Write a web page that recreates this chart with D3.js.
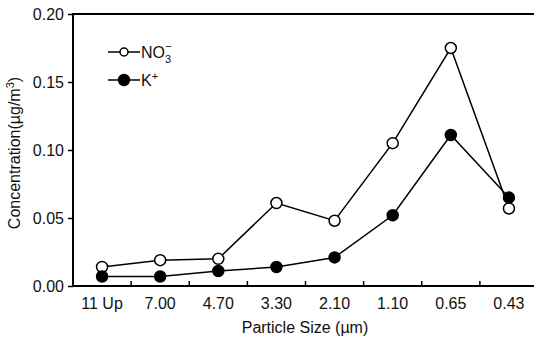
<!DOCTYPE html>
<html lang="en">
  <head>
    <meta charset="utf-8" />
    <title>Particle size distribution</title>
    <script src="https://d3js.org/d3.v7.js"></script>
    <style>
      body { margin: 0; background: #fff; }
      text { font-family: "Liberation Sans", Arial, sans-serif; fill: #111; }
    </style>
  </head>
  <body>
    <script>

    // data
    var sizes = ["11 Up", "7.00", "4.70", "3.30", "2.10", "1.10", "0.65", "0.43"];
    var no3 = [0.014, 0.019, 0.020, 0.061, 0.048, 0.105, 0.175, 0.057];
    var kplus = [0.007, 0.007, 0.011, 0.014, 0.021, 0.052, 0.111, 0.065];
    var yTicks = [0, 0.05, 0.10, 0.15, 0.20];

    var w = 534, h = 341;
    var margin = {top: 14, right: -4, bottom: 55, left: 73};

    var svg = d3.select("body")
      .append("svg")
        .attr("width", w)
        .attr("height", h);

    var x = d3.scaleBand()
      .domain(sizes)
      .range([margin.left, w - margin.right]);

    var y = d3.scaleLinear()
      .domain([0, 0.2])
      .range([h - margin.bottom, margin.top]);

    // frame
    svg.append("rect")
      .attr("x", margin.left)
      .attr("y", margin.top)
      .attr("width", w - margin.right - margin.left)
      .attr("height", h - margin.bottom - margin.top)
      .attr("fill", "none")
      .attr("stroke", "#000")
      .attr("stroke-width", 2);

    // y axis
    var yAxis = svg.append("g")
      .attr("transform", `translate(${margin.left},0)`)
      .call(d3.axisLeft(y).tickValues(yTicks).tickFormat(d3.format(".2f")).tickSize(5).tickPadding(4));
    yAxis.select(".domain").remove();
    yAxis.selectAll("text").style("font-size", "16px");
    yAxis.selectAll("line").attr("stroke-width", 1.5);

    // x axis: ticks between categories, labels at centres
    var xAxis = svg.append("g")
      .attr("transform", `translate(0,${h - margin.bottom})`);
    xAxis.selectAll("line")
      .data(sizes.slice(1))
      .join("line")
        .attr("x1", d => x(d))
        .attr("x2", d => x(d))
        .attr("y1", 0)
        .attr("y2", -5)
        .attr("stroke", "#000")
        .attr("stroke-width", 1.5);
    xAxis.selectAll("text")
      .data(sizes)
      .join("text")
        .attr("x", d => x(d) + x.bandwidth() / 2)
        .attr("y", 23)
        .attr("text-anchor", "middle")
        .style("font-size", "16px")
        .text(d => d);

    // labels
    svg.append("text")
      .attr("x", 305)
      .attr("y", 333)
      .attr("text-anchor", "middle")
      .style("font-size", "16px")
      .text("Particle Size (\u00b5m)");

    var ylab = svg.append("text")
      .attr("transform", "translate(20,153) rotate(-90)")
      .attr("text-anchor", "middle")
      .style("font-size", "16px");
    ylab.append("tspan").text("Concentration(\u00b5g/m");
    ylab.append("tspan").attr("dy", -6).style("font-size", "11px").text("3");
    ylab.append("tspan").attr("dy", 6).text(")");

    // series
    var line = d3.line()
      .x((d, i) => x(sizes[i]) + x.bandwidth() / 2)
      .y(d => y(d));

    var series = [
      {name: "no3", values: no3, fill: "#fff"},
      {name: "k", values: kplus, fill: "#000"}
    ];

    series.forEach(function(s) {
      svg.append("path")
        .datum(s.values)
        .attr("d", line)
        .attr("fill", "none")
        .attr("stroke", "#000")
        .attr("stroke-width", 1.5);
      svg.selectAll("circle." + s.name)
        .data(s.values)
        .join("circle")
          .attr("class", s.name)
          .attr("cx", (d, i) => x(sizes[i]) + x.bandwidth() / 2)
          .attr("cy", d => y(d))
          .attr("r", 5.5)
          .attr("fill", s.fill)
          .attr("stroke", "#000")
          .attr("stroke-width", 1.5);
    });

    // legend
    var legend = svg.append("g").attr("transform", "translate(108,52)");
    [{fill: "#fff", dy: 0}, {fill: "#000", dy: 28}].forEach(function(l) {
      legend.append("line")
        .attr("x1", 0).attr("x2", 32)
        .attr("y1", l.dy).attr("y2", l.dy)
        .attr("stroke", "#000").attr("stroke-width", 1.5);
      legend.append("circle")
        .attr("cx", 16).attr("cy", l.dy).attr("r", l.fill === "#fff" ? 4 : 5.5)
        .attr("fill", l.fill).attr("stroke", "#000").attr("stroke-width", 1.5);
    });
    var t1 = legend.append("text").attr("x", 33).attr("y", 6).style("font-size", "16px");
    t1.append("tspan").text("NO");
    t1.append("tspan").attr("dy", 5).style("font-size", "11px").text("3");
    t1.append("tspan").attr("dx", -6).attr("dy", -13).style("font-size", "11px").text("\u2212");
    var t2 = legend.append("text").attr("x", 33).attr("y", 34).style("font-size", "16px");
    t2.append("tspan").text("K");
    t2.append("tspan").attr("dy", -6).style("font-size", "11px").text("+");

    </script>
  </body>
</html>
